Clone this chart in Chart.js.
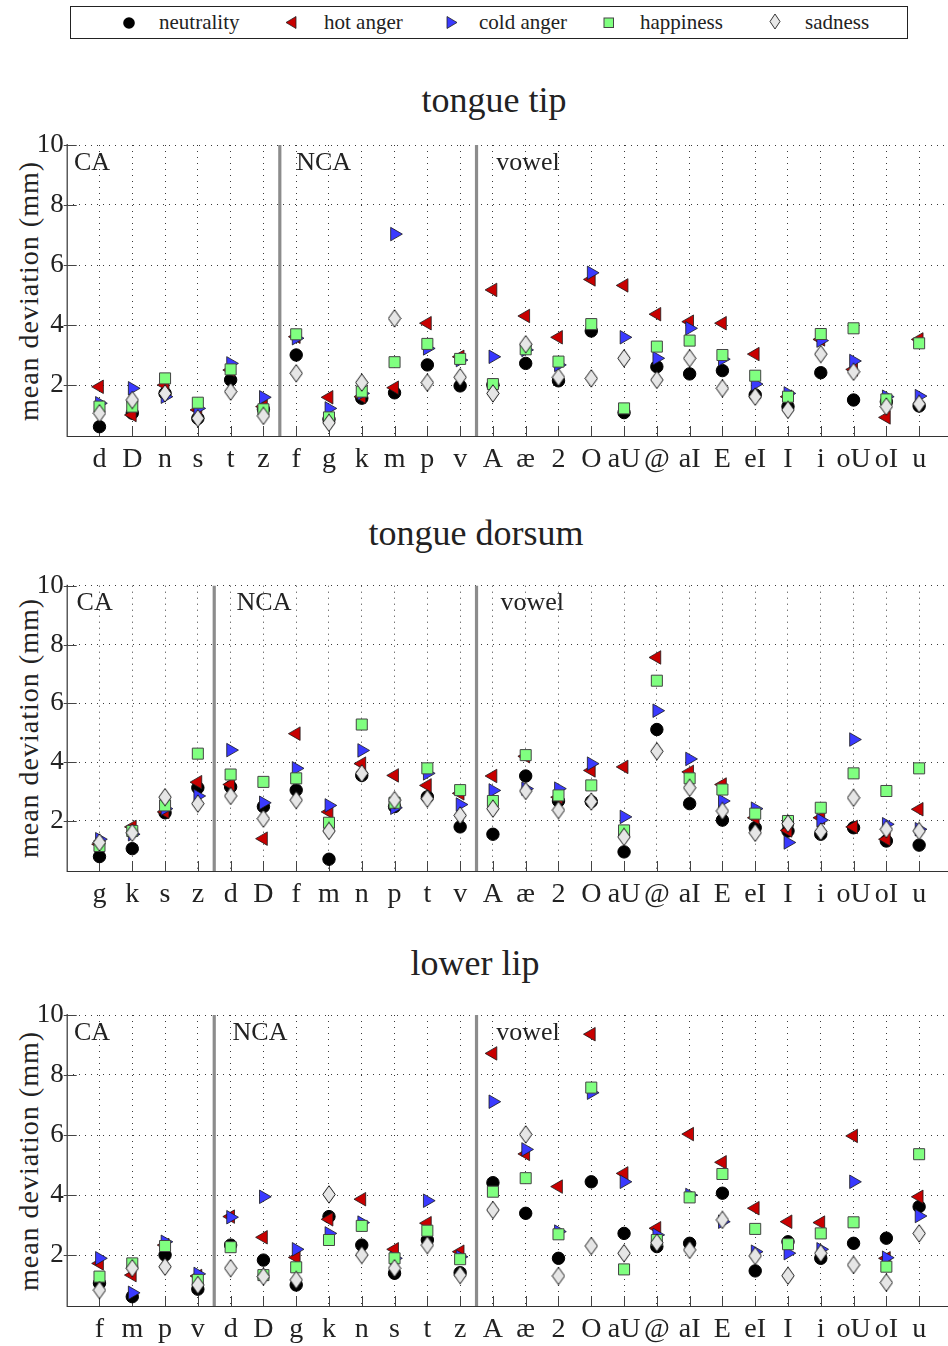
<!DOCTYPE html>
<html>
<head>
<meta charset="utf-8">
<script src="https://cdn.jsdelivr.net/npm/chart.js@4.4.1/dist/chart.umd.min.js"></script>
<style>
  html, body { margin: 0; padding: 0; background: #fff; }
  body { width: 948px; height: 1346px; position: relative; overflow: hidden; font-family: 'Liberation Serif', serif; color: #222; }
  canvas { position: absolute; left: 0; }
  .title { position: absolute; transform: translateX(-50%); font-size: 36px; line-height: 36px; white-space: nowrap; color: #222; }
  .ylab { position: absolute; transform: translate(-50%, -50%) rotate(-90deg); font-size: 28px; line-height: 28px; letter-spacing: 1px; white-space: nowrap; color: #222; }
  #legend { position: absolute; left: 70px; top: 6px; width: 836px; height: 31px; border: 1px solid #222; }
  .lt { position: absolute; top: 3px; font-size: 21px; line-height: 24px; white-space: nowrap; color: #222; }
  .lm { position: absolute; }
</style>
</head>
<body>
<div id="legend">
  <svg class="lm" style="left:51px;top:9px" width="14" height="14"><circle cx="7" cy="7" r="5.8" fill="#000"/></svg>
  <div class="lt" style="left:88px">neutrality</div>
  <svg class="lm" style="left:213px;top:8px" width="14" height="16"><polygon points="2,7.5 12,1.5 12,13.5" fill="#c80000" stroke="#222" stroke-width="0.8"/></svg>
  <div class="lt" style="left:253px">hot anger</div>
  <svg class="lm" style="left:374px;top:8px" width="14" height="16"><polygon points="12,7.5 2,1.5 2,13.5" fill="#3a3aff" stroke="#222" stroke-width="0.8"/></svg>
  <div class="lt" style="left:408px">cold anger</div>
  <svg class="lm" style="left:531px;top:9px" width="14" height="14"><rect x="2" y="2" width="9.5" height="9.5" fill="#80ff80" stroke="#444" stroke-width="1"/></svg>
  <div class="lt" style="left:569px">happiness</div>
  <svg class="lm" style="left:697px;top:6px" width="14" height="20"><polygon points="7,1 12,8.5 7,16 2,8.5" fill="#e8e8e8" stroke="#222" stroke-width="0.9"/></svg>
  <div class="lt" style="left:734px">sadness</div>
</div>

<div class="title" style="left:494px;top:82px">tongue tip</div>
<div class="title" style="left:476px;top:515px">tongue dorsum</div>
<div class="title" style="left:475px;top:945px">lower lip</div>

<div class="ylab" style="left:29px;top:291px">mean deviation (mm)</div>
<div class="ylab" style="left:29px;top:728px">mean deviation (mm)</div>
<div class="ylab" style="left:29px;top:1161px">mean deviation (mm)</div>

<canvas id="c1" width="948" height="360" style="top:130px;width:948px;height:360px"></canvas>
<canvas id="c2" width="948" height="360" style="top:570px;width:948px;height:360px"></canvas>
<canvas id="c3" width="948" height="346" style="top:1000px;width:948px;height:346px"></canvas>

<script>
// ---------- data ----------
const seriesNames = ['neutrality', 'hot anger', 'cold anger', 'happiness', 'sadness'];
const vowels = ['A','æ','2','O','aU','@','aI','E','eI','I','i','oU','oI','u'];

const tipCategories = ['d','D','n','s','t','z','f','g','k','m','p','v'].concat(vowels);
const tipNeutrality = [0.61,1.06,1.72,0.89,2.17,1.19,3.00,0.86,1.56,1.74,2.67,1.97, 2.00,2.72,2.14,3.80,1.08,2.61,2.37,2.48,1.67,1.28,2.41,1.50,1.44,1.30];
const tipHotAnger   = [1.94,1.00,2.00,1.17,2.50,1.28,3.61,1.59,1.61,1.91,4.06,2.94, 5.17,4.30,3.59,5.52,5.32,4.36,4.11,4.06,3.03,1.61,3.52,2.52,0.92,3.52];
const tipColdAnger  = [1.39,1.89,1.61,1.22,2.72,1.59,3.56,1.22,1.72,7.03,3.22,2.83, 2.94,3.17,2.67,5.74,3.59,2.89,3.89,2.86,2.03,1.72,3.48,2.80,1.61,1.63];
const tipHappiness  = [1.28,1.28,2.22,1.41,2.52,1.19,3.69,0.92,1.78,2.76,3.37,2.87, 2.03,3.19,2.78,4.03,1.22,3.28,3.48,3.00,2.31,1.61,3.70,3.89,1.52,3.39];
const tipSadness    = [1.06,1.50,1.72,0.89,1.78,0.97,2.39,0.74,2.08,4.22,2.08,2.26, 1.72,3.36,2.26,2.22,2.89,2.17,2.89,1.89,1.61,1.17,3.03,2.44,1.28,1.37];

const dorsumCategories = ['g','k','s','z','d','D','f','m','n','p','t','v'].concat(vowels);
const dorsumNeutrality = [0.79,1.06,2.28,3.13,3.16,2.49,3.05,0.70,3.55,2.49,2.82,1.80, 1.55,3.53,2.68,2.66,0.95,5.11,2.59,2.03,1.77,1.66,1.55,1.77,1.32,1.18];
const dorsumHotAnger   = [1.21,1.80,2.31,3.32,3.24,1.40,4.97,2.31,3.95,3.55,3.21,2.94, 3.53,4.20,2.81,3.72,3.84,7.56,3.67,3.24,2.11,1.68,2.11,1.80,1.38,2.40];
const dorsumColdAnger  = [1.38,1.55,2.42,2.85,4.41,2.62,3.79,2.53,4.40,2.45,3.62,2.56, 3.04,3.10,3.10,3.95,2.14,5.75,4.11,2.68,2.42,1.27,2.03,4.77,1.89,1.72];
const dorsumHappiness  = [1.15,1.66,2.53,4.29,3.58,3.33,3.45,1.94,5.28,2.62,3.79,3.05, 2.68,4.24,2.87,3.21,1.68,6.77,3.45,3.07,2.25,2.00,2.45,3.62,3.02,3.79];
const dorsumSadness    = [1.27,1.60,2.81,2.59,2.85,2.08,2.71,1.66,3.62,2.71,2.76,2.19, 2.42,3.02,2.37,2.66,1.46,4.37,3.13,2.34,1.60,1.91,1.64,2.79,1.72,1.66];

const lipCategories = ['f','m','p','v','d','D','g','k','n','s','t','z'].concat(vowels);
const lipNeutrality = [1.06,0.61,2.00,0.86,2.33,1.83,1.00,3.28,2.33,1.39,2.50,1.41, 4.41,3.39,1.89,4.44,2.72,2.28,2.39,4.06,1.47,2.44,1.89,2.39,2.56,3.61];
const lipHotAnger   = [1.72,1.33,2.33,1.30,3.28,2.59,1.92,3.19,3.86,2.19,3.06,2.11, 8.72,5.37,4.28,9.36,4.72,2.89,6.03,5.09,3.56,3.11,3.08,5.97,1.89,3.94];
const lipColdAnger  = [1.89,0.74,2.44,1.37,3.26,3.94,2.19,2.72,3.08,1.89,3.81,1.94, 7.11,5.52,2.78,7.41,4.44,2.67,4.00,3.11,2.11,2.06,2.19,4.44,1.91,3.30];
const lipHappiness  = [1.28,1.72,2.30,1.17,2.26,1.33,1.59,2.50,2.97,1.89,2.81,1.86, 4.11,4.56,2.69,7.58,1.52,2.50,3.92,4.70,2.87,2.36,2.72,3.09,1.61,5.36];
const lipSadness    = [0.83,1.56,1.61,1.00,1.56,1.28,1.17,4.02,2.00,1.56,2.33,1.33, 3.50,6.02,1.30,2.30,2.06,2.41,2.17,3.17,1.97,1.31,2.06,1.67,1.08,2.72];

const yTickValues = [2, 4, 6, 8, 10];
const tipGroups = ['CA', 'NCA', 'vowel'];
const tipGroupBoundaries = [6.5, 12.5];
const dorsumGroupBoundaries = [4.5, 12.5];
const lipGroupBoundaries = [4.5, 12.5];

// ---------- styling / layout ----------
const FONT = "'Liberation Serif', 'Times New Roman', serif";
const TEXT = '#222';

function diamondCanvas() {
  const c = document.createElement('canvas');
  c.width = 14; c.height = 19;
  const g = c.getContext('2d');
  g.beginPath();
  g.moveTo(7, 0.8); g.lineTo(13.2, 9.5); g.lineTo(7, 18.2); g.lineTo(0.8, 9.5); g.closePath();
  g.fillStyle = '#e6e6e6'; g.fill();
  g.lineWidth = 1; g.strokeStyle = '#1a1a1a'; g.stroke();
  return c;
}
const DIAMOND = diamondCanvas();

const seriesStyles = [
  { pointStyle: 'circle', radius: 6.2, backgroundColor: '#000', borderColor: '#000', borderWidth: 1, rotation: 0, order: 4 },
  { pointStyle: 'triangle', radius: 7.8, backgroundColor: '#c80000', borderColor: '#1a1a1a', borderWidth: 0.8, rotation: -90, order: 3 },
  { pointStyle: 'triangle', radius: 7.8, backgroundColor: '#3a3aff', borderColor: '#1a1a1a', borderWidth: 0.8, rotation: 90, order: 2 },
  { pointStyle: 'rect', radius: 7.8, backgroundColor: '#80ff80', borderColor: '#444', borderWidth: 1, rotation: 0, order: 1 },
  { pointStyle: DIAMOND, radius: 8, backgroundColor: '#e6e6e6', borderColor: '#1a1a1a', borderWidth: 1, rotation: 0, order: 0 }
];

const panelPlugin = {
  id: 'panelDecor',
  beforeDatasetsDraw(chart, args, opts) {
    const { ctx, chartArea: a, scales: { x, y } } = chart;
    ctx.save();
    // group separators
    ctx.strokeStyle = '#8c8c8c';
    ctx.lineWidth = 3.2;
    opts.boundaries.forEach(b => {
      const px = x.getPixelForValue(b);
      ctx.beginPath(); ctx.moveTo(px, a.top); ctx.lineTo(px, a.bottom); ctx.stroke();
    });
    // axes
    ctx.strokeStyle = '#333';
    ctx.lineWidth = 1.2;
    ctx.beginPath();
    ctx.moveTo(a.left + 0.5, a.top - 1); ctx.lineTo(a.left + 0.5, a.bottom + 0.5); ctx.lineTo(a.right + 2, a.bottom + 0.5);
    ctx.stroke();
    // inner tick marks
    ctx.lineWidth = 1;
    ctx.strokeStyle = '#444';
    x.ticks.forEach(t => {
      const px = Math.round(x.getPixelForValue(t.value)) + 0.5;
      ctx.beginPath(); ctx.moveTo(px, a.bottom); ctx.lineTo(px, a.bottom - 10); ctx.stroke();
    });
    y.ticks.forEach(t => {
      const py = Math.round(y.getPixelForValue(t.value)) + 0.5;
      ctx.beginPath(); ctx.moveTo(a.left - 3, py); ctx.lineTo(a.left + 10, py); ctx.stroke();
    });
    // group labels
    ctx.fillStyle = TEXT;
    ctx.font = "26px " + FONT;
    ctx.textBaseline = 'alphabetic';
    ctx.textAlign = 'left';
    opts.groupLabels.forEach((lab, i) => {
      ctx.fillText(lab, x.getPixelForValue(opts.groupLabelX[i]), y.getPixelForValue(9.17));
    });
    ctx.restore();
  }
};

function makePanel(id, categories, series, boundaries, groupLabelX, padTop, xAxisHeight) {
  const datasets = series.map((vals, si) => {
    const s = seriesStyles[si];
    return {
      label: seriesNames[si],
      data: vals.map((v, i) => ({ x: i + 1, y: v })),
      showLine: false,
      pointStyle: s.pointStyle,
      pointRadius: s.radius,
      pointHoverRadius: s.radius,
      pointBackgroundColor: s.backgroundColor,
      pointBorderColor: s.borderColor,
      pointBorderWidth: s.borderWidth,
      pointRotation: s.rotation,
      backgroundColor: s.backgroundColor,
      borderColor: s.borderColor,
      order: s.order,
      clip: false
    };
  });
  return new Chart(document.getElementById(id), {
    type: 'scatter',
    data: { datasets },
    plugins: [panelPlugin],
    options: {
      responsive: false,
      animation: false,
      devicePixelRatio: 1,
      layout: { autoPadding: false, padding: { top: padTop, right: 1, left: 0, bottom: 0 } },
      plugins: {
        legend: { display: false },
        tooltip: { enabled: false },
        panelDecor: { boundaries, groupLabels: tipGroups, groupLabelX }
      },
      scales: {
        x: {
          type: 'linear', position: 'bottom', min: 0, max: 26.85,
          afterBuildTicks: s => { s.ticks = categories.map((c, i) => ({ value: i + 1 })); },
          afterFit: s => { s.height = xAxisHeight; s.paddingLeft = 0; s.paddingRight = 0; s.paddingTop = 0; s.paddingBottom = 0; },
          ticks: {
            autoSkip: false, maxRotation: 0, minRotation: 0, padding: 7,
            color: TEXT, font: { family: FONT, size: 28 },
            callback: v => categories[Math.round(v) - 1] || ''
          },
          grid: { color: '#3a3a3a', lineWidth: 1, drawTicks: false },
          border: { display: false, dash: [1, 5] }
        },
        y: {
          min: 0.3, max: 10,
          afterBuildTicks: s => { s.ticks = yTickValues.map(v => ({ value: v })); },
          afterFit: s => { s.width = 66.7; s.paddingLeft = 0; s.paddingRight = 0; s.paddingTop = 0; s.paddingBottom = 0; },
          ticks: { padding: 3, color: TEXT, font: { family: FONT, size: 27 } },
          grid: { color: '#3a3a3a', lineWidth: 1, drawTicks: false },
          border: { display: false, dash: [1, 5] }
        }
      }
    }
  });
}

makePanel('c1', tipCategories,
  [tipNeutrality, tipHotAnger, tipColdAnger, tipHappiness, tipSadness],
  tipGroupBoundaries, [0.22, 7.0, 13.1], 15, 54);
makePanel('c2', dorsumCategories,
  [dorsumNeutrality, dorsumHotAnger, dorsumColdAnger, dorsumHappiness, dorsumSadness],
  dorsumGroupBoundaries, [0.3, 5.18, 13.23], 15.7, 59);
makePanel('c3', lipCategories,
  [lipNeutrality, lipHotAnger, lipColdAnger, lipHappiness, lipSadness],
  lipGroupBoundaries, [0.22, 5.06, 13.1], 15, 40);
</script>
</body>
</html>
